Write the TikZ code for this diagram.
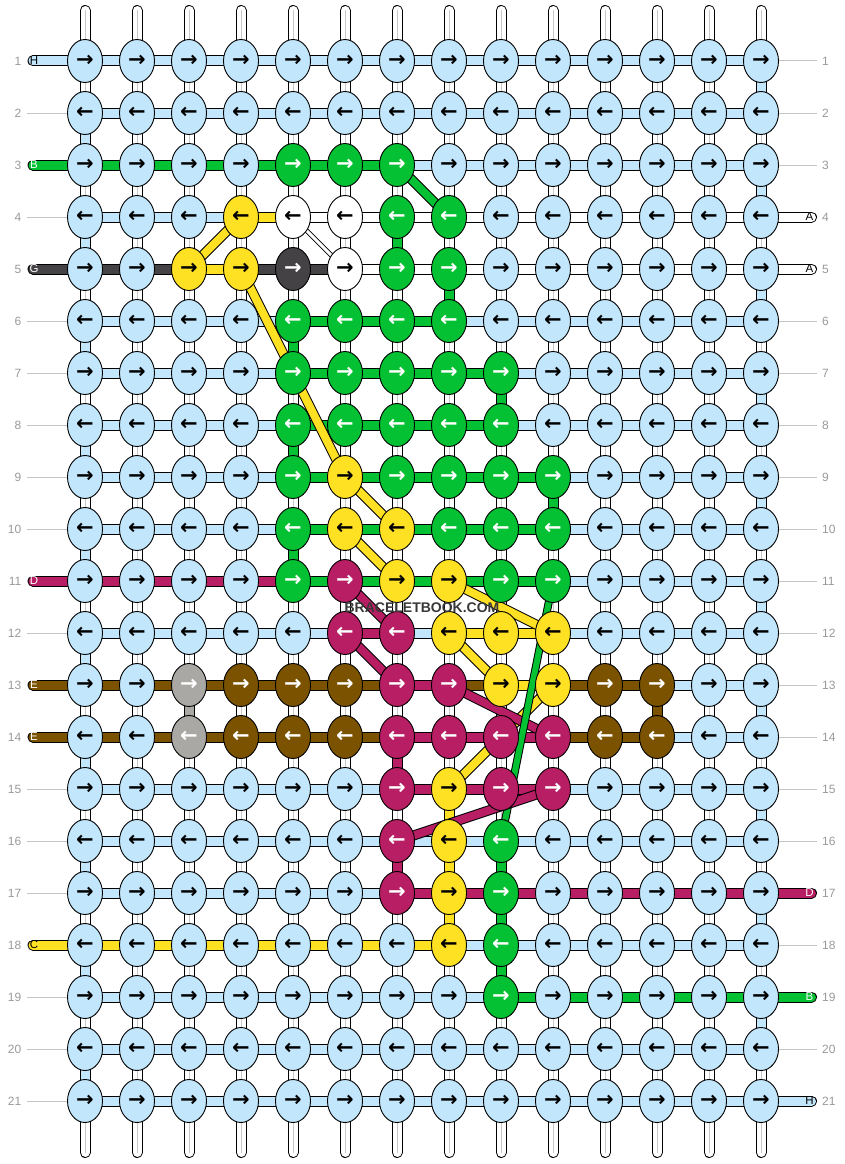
\documentclass[tikz,border=0pt]{standalone}
\usepackage{fontspec}
\setmainfont{Liberation Sans}
\newfontfamily\arrowfont{DejaVu Sans}
\usetikzlibrary{shapes.geometric}
\pgfdeclarelayer{warplayer}
\pgfdeclarelayer{seglayer}
\pgfsetlayers{warplayer,seglayer,main}
\definecolor{cL}{HTML}{C2E6FB}
\definecolor{cG}{HTML}{03C132}
\definecolor{cY}{HTML}{FFE123}
\definecolor{cM}{HTML}{B81E63}
\definecolor{cB}{HTML}{7B5300}
\definecolor{cS}{HTML}{AAA8A5}
\definecolor{cK}{HTML}{444244}
\definecolor{cW}{HTML}{FFFFFF}
\definecolor{labelgray}{HTML}{9A9A9A}
\definecolor{guidegray}{HTML}{C4C4C4}
\definecolor{warpgray}{HTML}{C8C8C8}
\def\tL{black}\def\tY{black}\def\tW{black}
\def\tG{white}\def\tM{white}\def\tB{white}\def\tS{white}\def\tK{white}
\begin{document}
\begin{tikzpicture}[x=1pt,y=-1pt,
  knotnode/.style={ellipse, draw=black, line width=0.9pt, minimum width=35pt, minimum height=43pt, inner sep=0pt, font=\arrowfont\bfseries\fontsize{21}{21}\selectfont},
  strandseg/.style={draw=black, line width=1pt, double distance=9pt},
  diagseg/.style={draw=black, line width=1pt, double distance=8pt},
  warpline/.style={draw=black, line width=1pt, double=white, double distance=9pt, line cap=round},
  warpcore/.style={draw=warpgray, line width=1pt},
  guideline/.style={draw=guidegray, line width=1pt},
  rowlabel/.style={text=labelgray, font=\fontsize{12}{12}\selectfont, inner sep=0pt},
  endlabel/.style={font=\fontsize{11.5}{12}\selectfont, inner sep=0pt}
]
\useasboundingbox (0,0) rectangle (844,1164);
% knots
\foreach \row [count=\r] in {
{L,L,L,L,L,L,L,L,L,L,L,L,L,L},
{L,L,L,L,L,L,L,L,L,L,L,L,L,L},
{L,L,L,L,G,G,G,L,L,L,L,L,L,L},
{L,L,L,Y,W,W,G,G,L,L,L,L,L,L},
{L,L,Y,Y,K,W,G,G,L,L,L,L,L,L},
{L,L,L,L,G,G,G,G,L,L,L,L,L,L},
{L,L,L,L,G,G,G,G,G,L,L,L,L,L},
{L,L,L,L,G,G,G,G,G,L,L,L,L,L},
{L,L,L,L,G,Y,G,G,G,G,L,L,L,L},
{L,L,L,L,G,Y,Y,G,G,G,L,L,L,L},
{L,L,L,L,G,M,Y,Y,G,G,L,L,L,L},
{L,L,L,L,L,M,M,Y,Y,Y,L,L,L,L},
{L,L,S,B,B,B,M,M,Y,Y,B,B,L,L},
{L,L,S,B,B,B,M,M,M,M,B,B,L,L},
{L,L,L,L,L,L,M,Y,M,M,L,L,L,L},
{L,L,L,L,L,L,M,Y,G,L,L,L,L,L},
{L,L,L,L,L,L,M,Y,G,L,L,L,L,L},
{L,L,L,L,L,L,L,Y,G,L,L,L,L,L},
{L,L,L,L,L,L,L,L,G,L,L,L,L,L},
{L,L,L,L,L,L,L,L,L,L,L,L,L,L},
{L,L,L,L,L,L,L,L,L,L,L,L,L,L}}{
  \pgfmathsetmacro\yy{61+52*(\r-1)}
  \foreach \col [count=\c] in \row {
    \pgfmathsetmacro\xx{85+52*(\c-1)}
    \edef\tc{\csname t\col\endcsname}
    \node[knotnode, fill=c\col, text=\tc] (k-\r-\c) at (\xx,\yy) {\ifodd\r\relax →\else ←\fi};
  }
}
% row labels
\foreach \r in {1,...,21}{
  \pgfmathsetmacro\yy{61+52*(\r-1)}
  \node[rowlabel, anchor=east] (nl-\r) at (21.5,\yy) {\r};
  \node[rowlabel, anchor=west] (nr-\r) at (822,\yy) {\r};
}
\begin{pgfonlayer}{warplayer}
  \fill[white] (0,0) rectangle (844,1164);
  \foreach \c in {1,...,14}{
    \pgfmathsetmacro\xx{85+52*(\c-1)}
    \coordinate (wt-\c) at (\xx,10.5);
    \coordinate (wb-\c) at (\xx,1152.5);
    \draw[warpline] (wt-\c) -- (wb-\c);
    \draw[warpcore] (wt-\c) -- (wb-\c);
  }
\end{pgfonlayer}
\begin{pgfonlayer}{seglayer}
  % guide lines
  \foreach \r in {2,4,6,7,8,9,10,12,15,16,17,19,20,21}{
    \pgfmathsetmacro\yy{61+52*(\r-1)}
    \coordinate (lg-\r) at (27,\yy);
    \draw[guideline] (lg-\r) -- (k-\r-1.center);
  }
  \foreach \r in {1,2,3,6,7,8,9,10,11,12,13,14,15,16,18,20}{
    \pgfmathsetmacro\yy{61+52*(\r-1)}
    \coordinate (rg-\r) at (817,\yy);
    \draw[guideline] (k-\r-14.center) -- (rg-\r);
  }
  % strand ends
  \foreach \r/\col/\lab/\tcol in {1/L/H/black, 3/G/B/white, 5/K/G/white, 11/M/D/white, 13/B/E/white, 14/B/E/white, 18/Y/C/black}{
    \pgfmathsetmacro\yy{61+52*(\r-1)}
    \coordinate (le-\r) at (33,\yy);
    \draw[strandseg, double=c\col, line cap=round] (le-\r) -- (k-\r-1.center);
    \node[endlabel, text=\tcol] (ll-\r) at (34,\yy) {\lab};
  }
  \foreach \r/\col/\lab/\tcol in {4/W/A/black, 5/W/A/black, 17/M/D/white, 19/G/B/white, 21/L/H/black}{
    \pgfmathsetmacro\yy{61+52*(\r-1)}
    \coordinate (re-\r) at (811.5,\yy);
    \draw[strandseg, double=c\col, line cap=round] (k-\r-14.center) -- (re-\r);
    \node[endlabel, text=\tcol] (rl-\r) at (809.5,\yy) {\lab};
  }
  % horizontal segments
  \foreach \row [count=\r] in {
  {L,L,L,L,L,L,L,L,L,L,L,L,L},
  {L,L,L,L,L,L,L,L,L,L,L,L,L},
  {G,G,G,G,G,G,L,L,L,L,L,L,L},
  {L,L,L,Y,W,W,W,W,W,W,W,W,W},
  {K,K,Y,K,K,W,W,W,W,W,W,W,W},
  {L,L,L,L,G,G,G,L,L,L,L,L,L},
  {L,L,L,L,G,G,G,G,L,L,L,L,L},
  {L,L,L,L,G,G,G,G,L,L,L,L,L},
  {L,L,L,L,G,G,G,G,G,L,L,L,L},
  {L,L,L,L,G,G,G,G,G,L,L,L,L},
  {M,M,M,M,G,G,G,G,G,L,L,L,L},
  {L,L,L,L,L,M,L,Y,Y,L,L,L,L},
  {B,B,B,B,B,B,M,B,Y,B,B,L,L},
  {B,B,B,B,B,B,M,M,M,B,B,L,L},
  {L,L,L,L,L,L,M,M,M,L,L,L,L},
  {L,L,L,L,L,L,L,L,L,L,L,L,L},
  {L,L,L,L,L,L,M,M,M,M,M,M,M},
  {Y,Y,Y,Y,Y,Y,Y,L,L,L,L,L,L},
  {L,L,L,L,L,L,L,L,G,G,G,G,G},
  {L,L,L,L,L,L,L,L,L,L,L,L,L},
  {L,L,L,L,L,L,L,L,L,L,L,L,L}}{
    \foreach \col [count=\c] in \row {
      \pgfmathtruncatemacro\cn{\c+1}
      \draw[strandseg, double=c\col] (k-\r-\c.center) -- (k-\r-\cn.center);
    }
  }
  % vertical segments
  \foreach \r in {2,4,...,20}{
    \pgfmathtruncatemacro\rn{\r+1}
    \draw[strandseg, double=cL] (k-\r-1.center) -- (k-\rn-1.center);
  }
  \foreach \r in {1,3,...,19}{
    \pgfmathtruncatemacro\rn{\r+1}
    \draw[strandseg, double=cL] (k-\r-14.center) -- (k-\rn-14.center);
  }
  \foreach \r/\c/\col in {4/7/G, 5/8/G, 6/5/G, 7/9/G, 8/5/G, 9/10/G, 10/5/G, 13/3/S, 13/12/B, 14/7/M, 15/8/Y, 16/7/M, 16/8/Y, 16/9/G, 17/8/Y, 17/9/G, 18/9/G}{
    \pgfmathtruncatemacro\rn{\r+1}
    \draw[strandseg, double=c\col] (k-\r-\c.center) -- (k-\rn-\c.center);
  }
  % diagonal strands
  \draw[draw=black, line width=0.8pt, double=white, double distance=3pt] (k-4-5.center) -- (k-5-6.center);
  \foreach \ra/\ca/\rb/\cb/\col in {3/7/4/8/G, 4/4/5/3/Y, 5/4/9/6/Y, 9/6/10/7/Y, 10/6/11/7/Y, 11/8/12/10/Y, 12/8/13/9/Y, 13/10/15/8/Y, 11/6/12/7/M, 12/6/13/7/M, 13/8/14/10/M}{
    \draw[diagseg, double=c\col] (k-\ra-\ca.center) -- (k-\rb-\cb.center);
  }
  \draw[draw=black, line width=1pt, double=cG, double distance=6pt] (k-11-10.center) -- (k-16-9.center);
  \draw[diagseg, double=cM] (k-15-10.center) -- (k-16-7.center);
\end{pgfonlayer}
\node[font=\bfseries\fontsize{14}{14}\selectfont, text=black!78, inner sep=0pt] (wm) at (422,607.5) {BRACELETBOOK.COM};
\end{tikzpicture}
\end{document}
